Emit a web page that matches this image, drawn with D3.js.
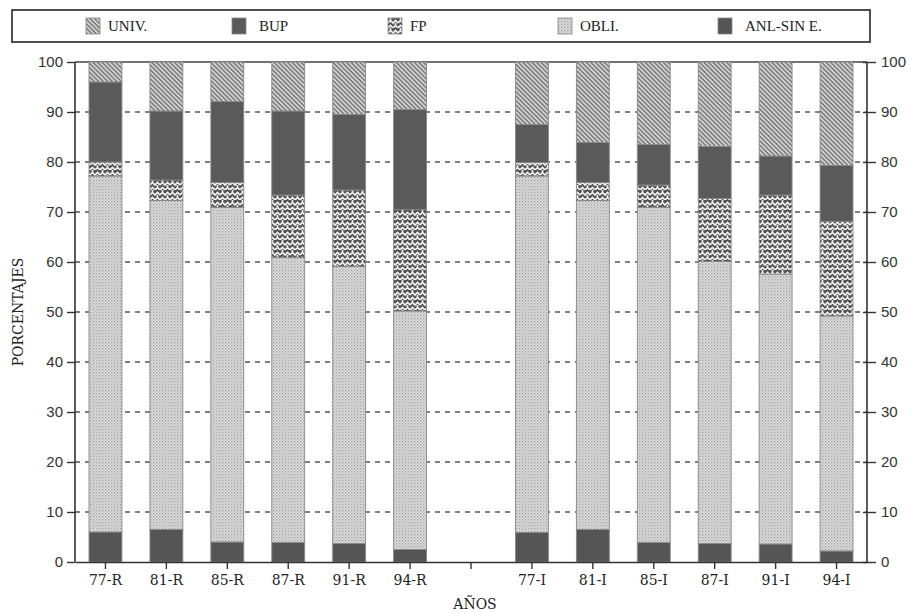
<!DOCTYPE html>
<html>
<head>
<meta charset="utf-8">
<script src="https://cdn.jsdelivr.net/npm/d3@7"></script>
<style>
  body { margin: 0; background: #fff; }
  svg { display: block; }
</style>
</head>
<body>
<svg id="chart" width="911" height="613"></svg>
<script>
// ---- data ----
const slots = ["77-R", "81-R", "85-R", "87-R", "91-R", "94-R", "", "77-I", "81-I", "85-I", "87-I", "91-I", "94-I"];
const categories = ["77-R", "81-R", "85-R", "87-R", "91-R", "94-R", "77-I", "81-I", "85-I", "87-I", "91-I", "94-I"];
const anl  = [6.0, 6.5, 4.0, 3.9, 3.7, 2.5,   5.9, 6.5, 3.9, 3.7, 3.6, 2.2];
const obli = [71.2, 65.8, 66.9, 57.0, 55.4, 47.7,   71.3, 65.8, 67.0, 56.4, 54.0, 47.0];
const fp   = [2.8, 4.1, 5.0, 12.5, 15.3, 20.3,   2.7, 3.6, 4.5, 12.6, 15.8, 18.9];
const bup  = [16.0, 13.8, 16.2, 16.8, 15.1, 20.0,   7.6, 8.0, 8.1, 10.4, 7.8, 11.2];
const univ = [4.0, 9.8, 7.9, 9.8, 10.5, 9.5,   12.5, 16.1, 16.5, 16.9, 18.8, 20.7];
const yTicks = [0, 10, 20, 30, 40, 50, 60, 70, 80, 90, 100];
const legendLabels = ["UNIV.", "BUP", "FP", "OBLI.", "ANL-SIN E."];
const seriesKeys = ["anl", "obli", "fp", "bup", "univ"];

// ---- build table ----
const table = categories.map((c, i) => ({
  cat: c, anl: anl[i], obli: obli[i], fp: fp[i], bup: bup[i], univ: univ[i]
}));

const svg = d3.select("#chart");
const margin = { left: 75, right: 44, top: 62, bottom: 51 };
const W = 911, H = 613;
const x0 = margin.left, x1 = W - margin.right;
const y0 = H - margin.bottom, y1 = margin.top;

const x = d3.scaleBand().domain(slots).range([x0, x1]).paddingInner(0.46).paddingOuter(0.23);
const y = d3.scaleLinear().domain([0, 100]).range([y0, y1]);

// ---- patterns ----
const defs = svg.append("defs");
// UNIV: diagonal hatch (top-left to bottom-right)
const pU = defs.append("pattern").attr("id", "pUniv").attr("patternUnits", "userSpaceOnUse")
  .attr("width", 3.2).attr("height", 3.2).attr("patternTransform", "rotate(45)");
pU.append("rect").attr("width", 3.2).attr("height", 3.2).attr("fill", "#d2d2d2");
pU.append("rect").attr("width", 3.2).attr("height", 1.3).attr("fill", "#6e6e6e");
// OBLI: fine dots
const pO = defs.append("pattern").attr("id", "pObli").attr("patternUnits", "userSpaceOnUse")
  .attr("width", 3).attr("height", 3);
pO.append("rect").attr("width", 3).attr("height", 3).attr("fill", "#dedede");
pO.append("rect").attr("x", 0).attr("y", 0).attr("width", 1.3).attr("height", 1.3).attr("fill", "#a0a0a0");
pO.append("rect").attr("x", 1.5).attr("y", 1.5).attr("width", 1.2).attr("height", 1.2).attr("fill", "#b2b2b2");
// FP: basket weave
const pF = defs.append("pattern").attr("id", "pFp").attr("patternUnits", "userSpaceOnUse")
  .attr("width", 10).attr("height", 10);
pF.append("rect").attr("width", 10).attr("height", 10).attr("fill", "#555");
pF.append("path").attr("d", "M0,5 L2.5,2.5 L5,5 L7.5,2.5 L10,5 M0,10 L2.5,7.5 L5,10 L7.5,7.5 L10,10 M2.5,2.5 L2.5,0 M7.5,7.5 L7.5,5")
  .attr("fill", "none").attr("stroke", "#f4f4f4").attr("stroke-width", 1.6);

const fills = { anl: "#555", obli: "url(#pObli)", fp: "url(#pFp)", bup: "#5a5a5a", univ: "url(#pUniv)" };

// ---- grid ----
const grid = svg.append("g");
grid.selectAll("line").data(yTicks.filter(t => t > 0 && t < 100)).join("line")
  .attr("x1", x0).attr("x2", x1)
  .attr("y1", d => y(d)).attr("y2", d => y(d))
  .attr("stroke", "#555").attr("stroke-width", 1.4).attr("stroke-dasharray", "5,5");
// top line
svg.append("line").attr("x1", x0).attr("x2", x1).attr("y1", y(100)).attr("y2", y(100))
  .attr("stroke", "#444").attr("stroke-width", 1.3);

// ---- bars ----
const stacked = d3.stack().keys(seriesKeys)(table);
const barG = svg.append("g");
stacked.forEach(layer => {
  barG.append("g").selectAll("rect").data(layer).join("rect")
    .attr("x", d => x(d.data.cat))
    .attr("width", x.bandwidth())
    .attr("y", d => y(d[1]))
    .attr("height", d => y(d[0]) - y(d[1]))
    .attr("fill", fills[layer.key])
    .attr("stroke", "#888").attr("stroke-width", 0.9);
});

// ---- axes ----
const axL = svg.append("g").attr("transform", `translate(${x0},0)`)
  .call(d3.axisLeft(y).tickValues(yTicks).tickSize(8).tickPadding(4));
const axR = svg.append("g").attr("transform", `translate(${x1},0)`)
  .call(d3.axisRight(y).tickValues(yTicks).tickSize(9).tickPadding(5));
axR.selectAll(".tick line").attr("x1", -4);
[axL, axR].forEach(a => {
  a.selectAll(".tick line").attr("stroke", "#333").attr("stroke-width", 1.4);
  a.selectAll("text").attr("font-family", "'Liberation Sans', Arial, sans-serif")
    .attr("font-size", 15).attr("fill", "#333");
});
axL.select(".domain").remove();
axR.select(".domain").remove();
svg.append("line").attr("x1", x0).attr("x2", x0).attr("y1", y(100)).attr("y2", y(0)).attr("stroke", "#333").attr("stroke-width", 1.6);
svg.append("line").attr("x1", x1).attr("x2", x1).attr("y1", y(100)).attr("y2", y(0)).attr("stroke", "#333").attr("stroke-width", 1.6);

const axB = svg.append("g").attr("transform", `translate(0,${y0})`)
  .call(d3.axisBottom(x).tickSize(7).tickPadding(6).tickSizeOuter(0));
axB.select(".domain").attr("stroke", "#333").attr("stroke-width", 1.4);
axB.selectAll(".tick line").attr("stroke", "#333").attr("stroke-width", 1.4);
axB.selectAll("text").attr("font-family", "'DejaVu Serif', serif").attr("font-size", 14).attr("fill", "#222");

// ---- titles ----
svg.append("text").attr("x", (x0 + x1) / 2 + 4).attr("y", 609).attr("text-anchor", "middle")
  .attr("font-family", "'DejaVu Serif', serif").attr("font-size", 14).attr("fill", "#222").text("AÑOS");
svg.append("text").attr("transform", `translate(23,${y(50)}) rotate(-90)`).attr("text-anchor", "middle")
  .attr("font-family", "'DejaVu Serif', serif").attr("font-size", 14).attr("fill", "#222").text("PORCENTAJES");

// ---- legend ----
svg.append("rect").attr("x", 12).attr("y", 10).attr("width", 858).attr("height", 32)
  .attr("fill", "#fff").attr("stroke", "#333").attr("stroke-width", 1.7);
const legendKeys = ["univ", "bup", "fp", "obli", "anl"];
const legendX = [86, 232, 388, 558, 718];
const lg = svg.append("g").selectAll("g").data(legendLabels).join("g")
  .attr("transform", (d, i) => `translate(${legendX[i]},18)`);
lg.append("rect").attr("width", 14).attr("height", 16)
  .attr("fill", (d, i) => fills[legendKeys[i]]).attr("stroke", "#888").attr("stroke-width", 0.8);
lg.append("text").attr("x", (d, i) => i === 1 || i === 4 ? 27 : 22).attr("y", 13)
  .attr("font-family", "'Liberation Serif', serif").attr("font-size", 15).attr("fill", "#222").text(d => d);
</script>
</body>
</html>
